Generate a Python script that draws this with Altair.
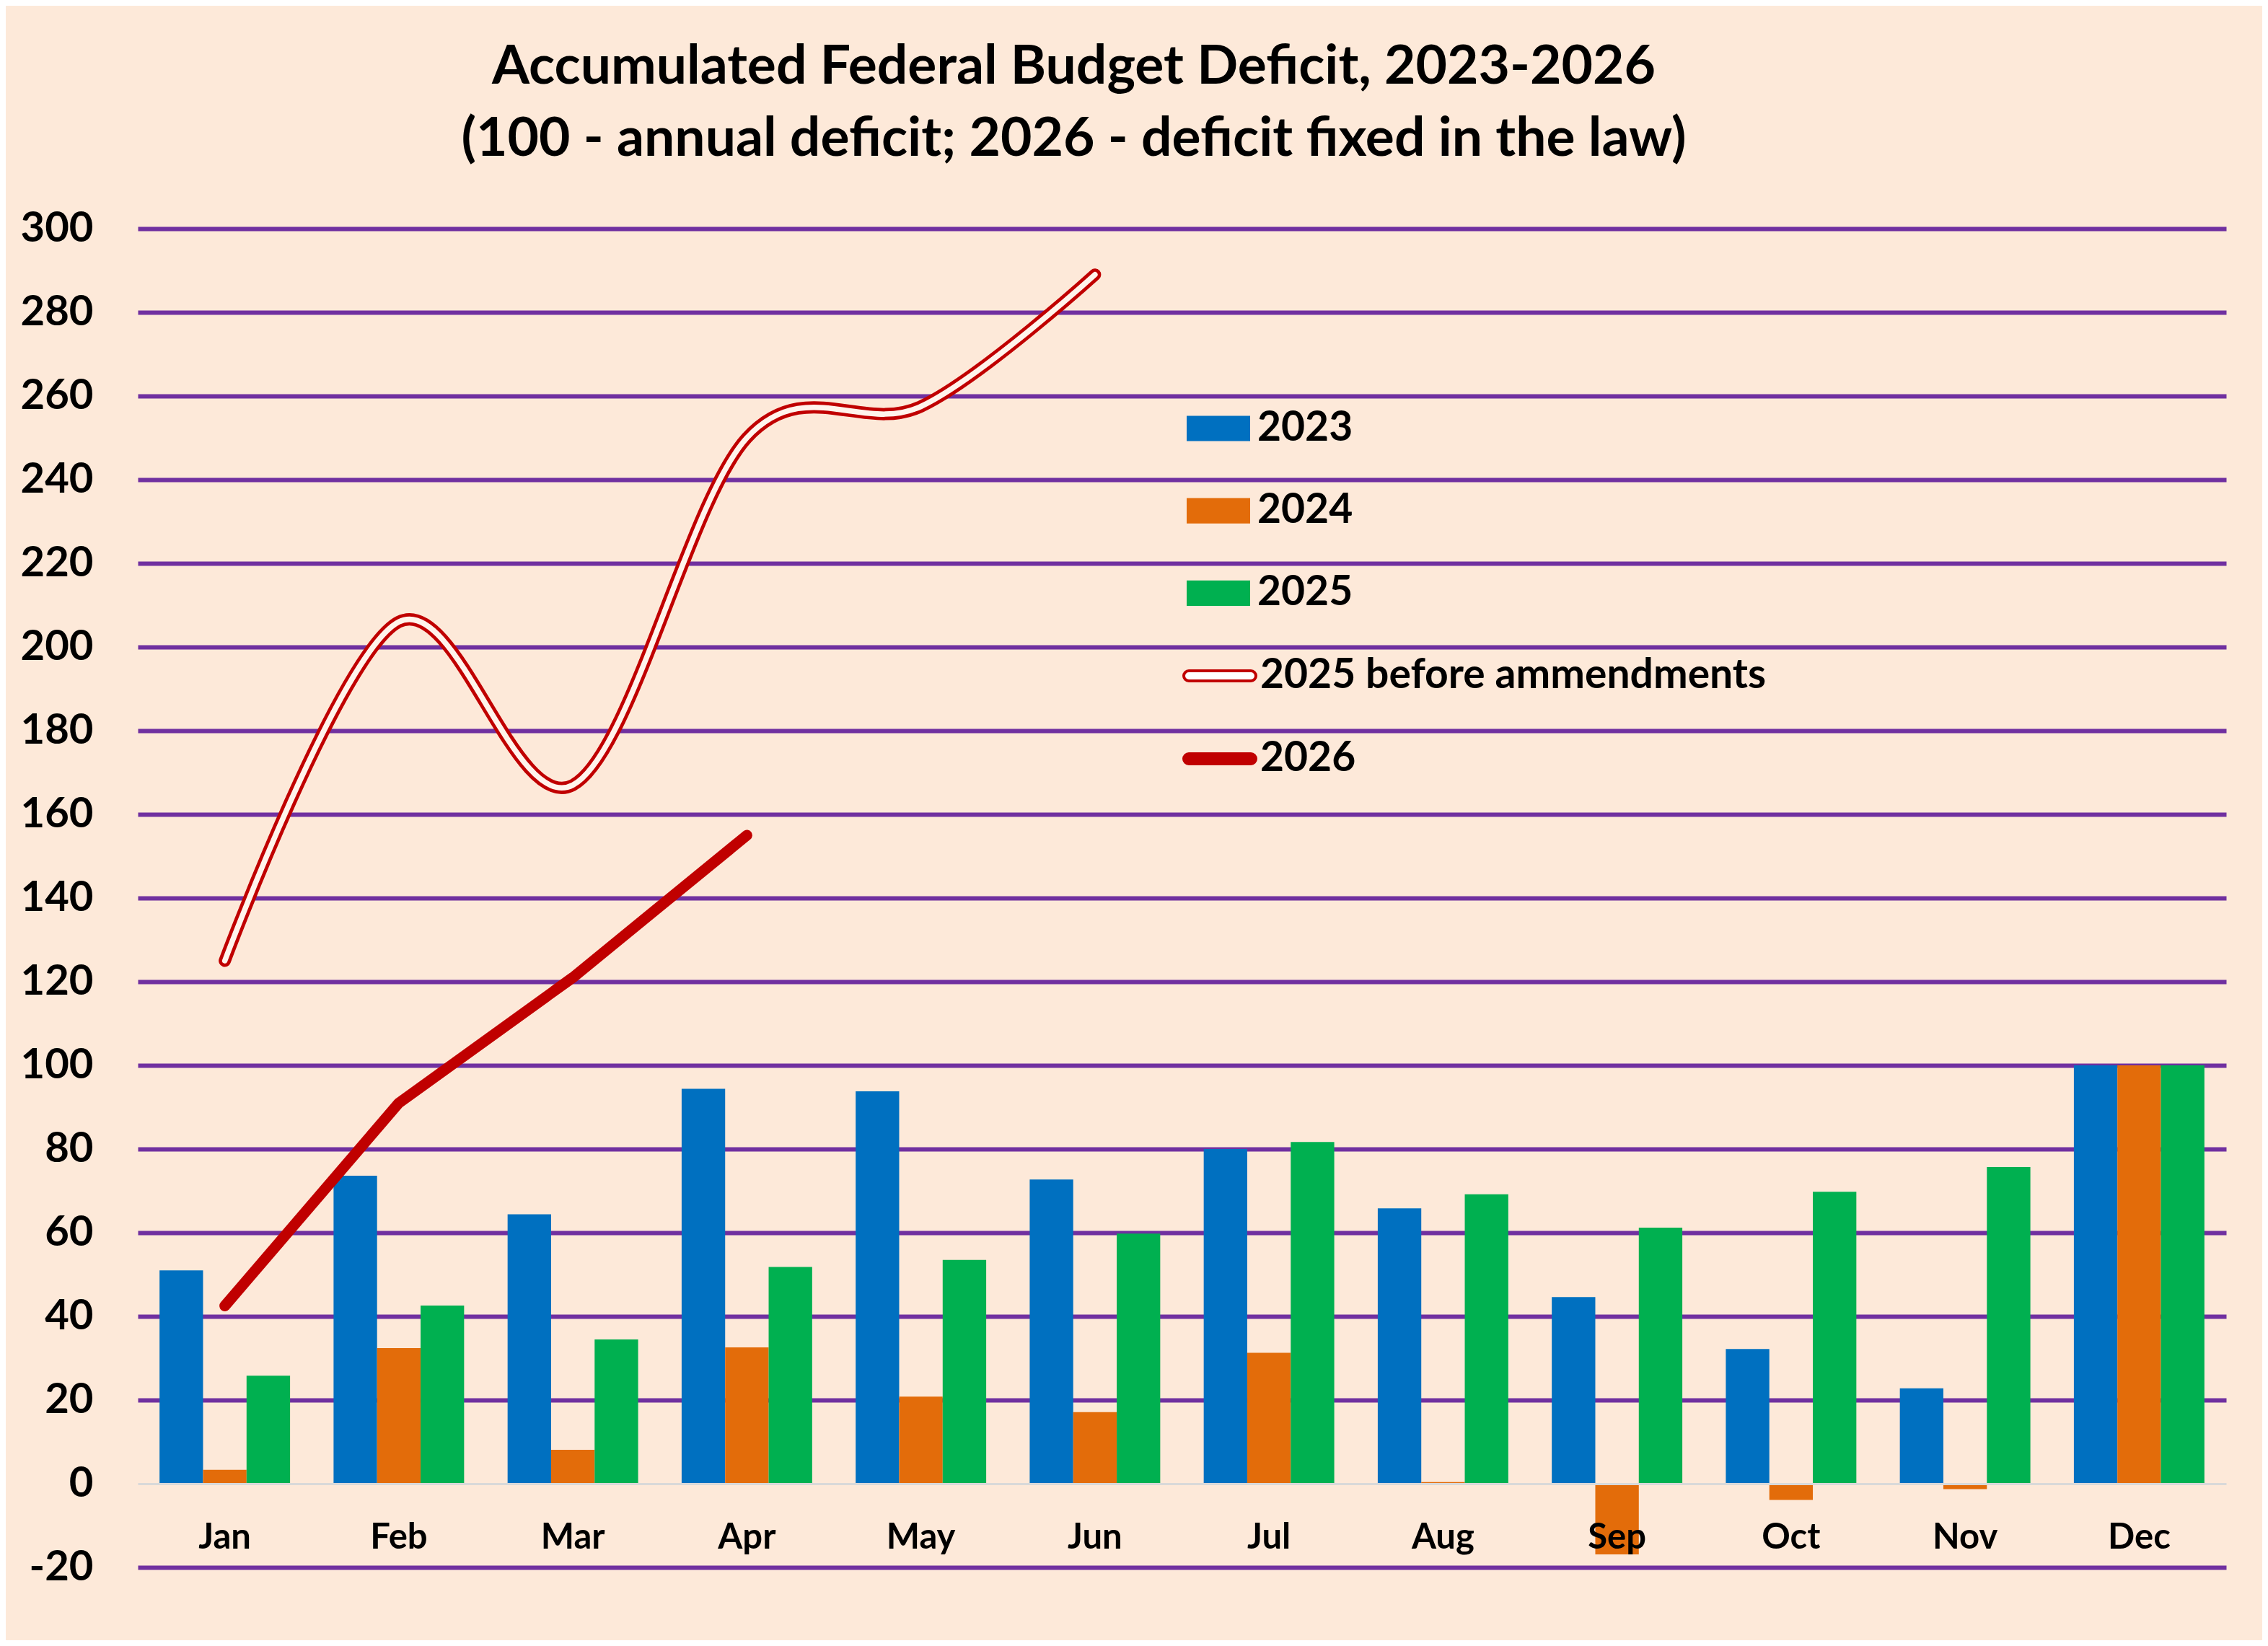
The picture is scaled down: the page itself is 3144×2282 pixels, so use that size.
import altair as alt
import pandas as pd

months = ["Jan", "Feb", "Mar", "Apr", "May", "Jun", "Jul", "Aug", "Sep", "Oct", "Nov", "Dec"]
bar_series = ["2023", "2024", "2025"]
v2023 = [51.0, 73.6, 64.4, 94.4, 93.8, 72.7, 80.0, 65.8, 44.6, 32.2, 22.8, 100]
v2024 = [3.3, 32.4, 8.1, 32.6, 20.8, 17.1, 31.3, 0.4, -16.9, -3.9, -1.3, 100]
v2025 = [25.8, 42.6, 34.5, 51.8, 53.5, 59.8, 81.7, 69.2, 61.2, 69.8, 75.7, 100]

before_name = "2025 before ammendments"
before_months = ["Jan", "Feb", "Mar", "Apr", "May", "Jun"]
v2025_before = [125, 206, 167, 250, 257.5, 289]
name_2026 = "2026"
months_2026 = ["Jan", "Feb", "Mar", "Apr"]
v2026 = [42.5, 91, 121, 155]

y_ticks = [-20, 0, 20, 40, 60, 80, 100, 120, 140, 160, 180, 200, 220, 240, 260, 280, 300]

bar_colors = ["#0070C0", "#E36C0A", "#00B050"]
red = "#C00000"
purple = "#7030A0"
bg = "#FDE9D9"
FONT = "Lato"

bars_df = pd.DataFrame(
    [{"month": m, "series": s, "value": v}
     for s, vals in zip(bar_series, [v2023, v2024, v2025])
     for m, v in zip(months, vals)]
)
before_df = pd.DataFrame({"month": before_months, "bname": before_name, "value": v2025_before})
l26_df = pd.DataFrame({"month": months_2026, "lname": name_2026, "value": v2026})

W, H = 2895, 1856
zero_offset = -H * 20 / 320

x_enc = alt.X(
    "month:N", sort=months,
    scale=alt.Scale(paddingInner=0.25, paddingOuter=0.125),
    axis=alt.Axis(
        title=None, labelAngle=0, labelFont=FONT, labelFontSize=49, labelFontWeight="bold",
        labelColor="black", ticks=False, domainColor="#D9D9D9", domainWidth=3,
        labelPadding=50, offset=zero_offset, zindex=1,
    ),
)
y_enc = alt.Y(
    "value:Q",
    scale=alt.Scale(domain=[-20, 300], nice=False, zero=False),
    axis=alt.Axis(
        values=y_ticks, title=None, grid=True,
        gridColor=alt.condition("datum.value === 0", alt.value("transparent"), alt.value(purple)),
        gridWidth=6, domain=False, ticks=False, labelFont=FONT, labelFontSize=58,
        labelFontWeight="bold", labelColor="black", labelPadding=62,
        labelExpr="'' + datum.value",
    ),
)

common_legend = dict(
    title=None, orient="none",
    labelFont=FONT, labelFontSize=57, labelFontWeight="bold", labelColor="black",
    padding=0, labelLimit=2000,
)

bars = alt.Chart(bars_df).mark_bar(opacity=1).encode(
    x=x_enc,
    xOffset=alt.XOffset("series:N", sort=bar_series, scale=alt.Scale(paddingInner=0, paddingOuter=0)),
    y=y_enc,
    color=alt.Color(
        "series:N",
        scale=alt.Scale(domain=bar_series, range=bar_colors),
        legend=alt.Legend(
            legendX=1454, legendY=233,
            symbolType="M-1,-0.4H1V0.4H-1Z", symbolSize=7744, symbolStrokeWidth=0,
            symbolOpacity=1, labelOffset=10, rowPadding=42.2, **common_legend,
        ),
    ),
)

pill = "M-0.86,-0.14H0.86A0.14,0.14 0 0 1 0.86,0.14H-0.86A0.14,0.14 0 0 1 -0.86,-0.14Z"

before_outer = alt.Chart(before_df).mark_line(
    interpolate="cardinal", tension=0, strokeWidth=17, strokeCap="round"
).encode(
    x=alt.X("month:N", sort=months), y=alt.Y("value:Q"),
    stroke=alt.Stroke(
        "bname:N", scale=alt.Scale(domain=[before_name], range=[red]),
        legend=alt.Legend(
            legendX=1448, legendY=568, symbolType=pill, symbolSize=10000,
            symbolStrokeWidth=4, symbolFillColor="#FFFFFF", symbolStrokeColor=red,
            symbolOpacity=1, labelOffset=4, **common_legend,
        ),
    ),
)

before_inner = alt.Chart(before_df).mark_line(
    interpolate="cardinal", tension=0, strokeWidth=7.5, strokeCap="round", color="#FFF4EC"
).encode(x=alt.X("month:N", sort=months), y=alt.Y("value:Q"))

line26 = alt.Chart(l26_df).mark_line(strokeWidth=15, strokeCap="round", color=red).encode(
    x=alt.X("month:N", sort=months), y=alt.Y("value:Q"),
    opacity=alt.Opacity(
        "lname:N", scale=alt.Scale(domain=[name_2026], range=[1]),
        legend=alt.Legend(
            legendX=1448, legendY=683, symbolType=pill, symbolSize=10000,
            symbolStrokeWidth=4, symbolFillColor=red, symbolStrokeColor=red,
            labelOffset=4, **common_legend,
        ),
    ),
)

chart = alt.layer(bars, before_outer, before_inner, line26).properties(
    width=W, height=H,
    title=alt.TitleParams(
        text=["Accumulated Federal Budget Deficit, 2023-2026",
              "(100 - annual deficit; 2026 - deficit fixed in the law)"],
        font=FONT, fontSize=75, fontWeight="bold", color="black", lineHeight=100,
        anchor="middle", dx=-150, offset=56,
    ),
    autosize=alt.AutoSizeParams(type="none"),
    padding={"left": 183, "top": 309, "right": 50, "bottom": 101},
    background=bg,
).configure_view(stroke=None)

chart.save("out.html", embed_options={"renderer": "svg", "actions": False})
